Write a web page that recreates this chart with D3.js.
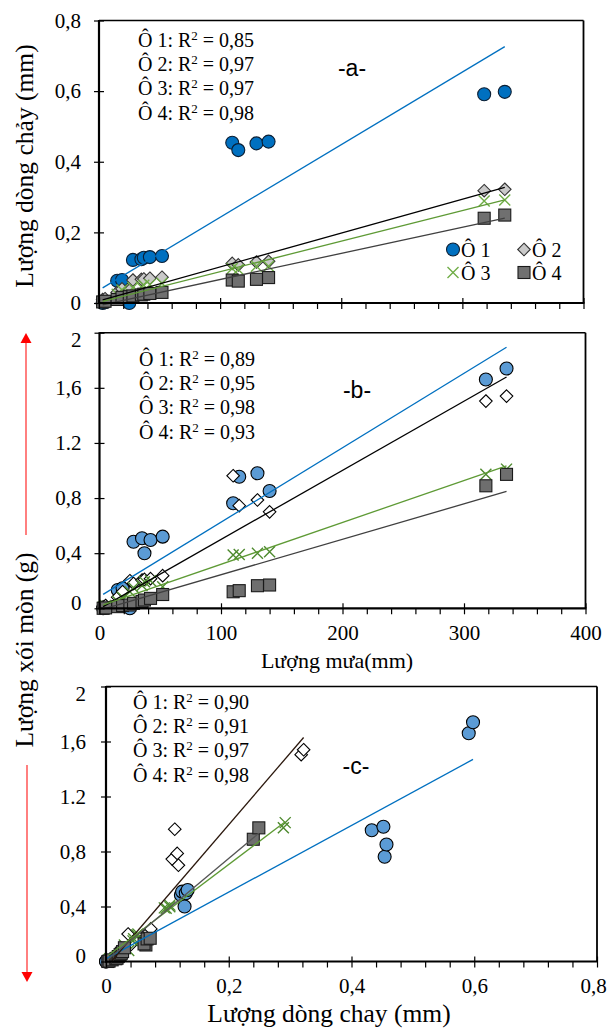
<!DOCTYPE html>
<html>
<head>
<meta charset="utf-8">
<script src="https://cdn.jsdelivr.net/npm/d3@7"></script>
<style>
  body { margin: 0; background: #fff; }
  svg { display: block; }
  text { font-family: "Liberation Serif", "Times New Roman", serif; fill: #000; }
</style>
</head>
<body>
<svg id="chart" width="608" height="1028"></svg>
<script>
// Rainfall of each event (mm)
const rain = [3, 5, 15, 19, 25, 28, 35, 37, 42, 52, 110, 115, 130, 140, 318, 335];
const plotNames = ["Ô 1", "Ô 2", "Ô 3", "Ô 4"];

// Runoff depth (mm) per plot
const runoff1 = [0, 0.002, 0.063, 0.065, 0, 0.122, 0.124, 0.128, 0.13, 0.133, 0.454, 0.433, 0.452, 0.457, 0.591, 0.598];
const runoff2 = [0.01, 0.012, 0.03, 0.04, 0.036, 0.065, 0.067, 0.068, 0.07, 0.073, 0.112, 0.108, 0.116, 0.118, 0.318, 0.322];
const runoff3 = [0.004, 0.006, 0.025, 0.037, 0.03, 0.044, 0.045, 0.05, 0.052, 0.056, 0.098, 0.095, 0.104, 0.104, 0.289, 0.292];
const runoff4 = [0.003, 0.005, 0.01, 0.016, 0.018, 0.02, 0.023, 0.025, 0.027, 0.03, 0.065, 0.062, 0.067, 0.072, 0.24, 0.249];

// Soil loss (g) per plot
const soil1 = [0, 0.004, 0.133, 0.145, 0, 0.483, 0.508, 0.40, 0.496, 0.52, 0.762, 0.955, 0.98, 0.851, 1.66, 1.74];
const soil2 = [0.01, 0.02, 0.08, 0.12, 0.2, 0.18, 0.205, 0.21, 0.215, 0.237, 0.962, 0.745, 0.786, 0.70, 1.504, 1.54];
const soil3 = [0.01, 0.02, 0.05, 0.08, 0.12, 0.15, 0.165, 0.193, 0.2, 0.157, 0.387, 0.39, 0.399, 0.41, 0.972, 1.01];
const soil4 = [0, 0.003, 0.012, 0.02, 0.024, 0.036, 0.05, 0.06, 0.072, 0.1, 0.12, 0.128, 0.164, 0.169, 0.889, 0.972];

// Linear trend coefficients (y = slope * x + intercept) and R² labels
const slopeA = [0.002057, 0.00096, 0.000865, 0.00074];
const interceptA = [0.0368, 0.006, 0.002, -0.0075];
const r2A = ["0,85", "0,97", "0,97", "0,98"];
const slopeB = [0.0054, 0.00502, 0.00304, 0.00257];
const interceptB = [0.085, -0.003, 0.015, -0.013];
const r2B = ["0,89", "0,95", "0,98", "0,93"];
const slopeC = [2.426, 5.2, 3.37, 3.73];
const interceptC = [0.019, -0.045, 0.032, 0.004];
const r2C = ["0,90", "0,91", "0,97", "0,98"];

// Tick values and labels
const rainTicks = [0, 100, 200, 300, 400];
const rainTickLabels = ["0", "100", "200", "300", "400"];
const runoffTicksA = [0, 0.2, 0.4, 0.6, 0.8];
const runoffTickLabelsA = ["0", "0,2", "0,4", "0,6", "0,8"];
const soilTicks = [0, 0.4, 0.8, 1.2, 1.6, 2];
const soilTickLabels = ["0", "0,4", "0,8", "1.2", "1,6", "2"];
const runoffTicksC = [0, 0.2, 0.4, 0.6, 0.8];
const runoffTickLabelsC = ["0", "0,2", "0,4", "0,6", "0,8"];

const runoffs = [runoff1, runoff2, runoff3, runoff4];
const soils = [soil1, soil2, soil3, soil4];

const svg = d3.select("#chart");

// Marker and line styles per panel
const styleA = {
  fills: ["#0070C0", "#C9C9C9", "none", "#707070"],
  strokes: ["#0b1e33", "#333", "#70AD47", "#1a1a1a"],
  lines: ["#0070C0", "#000000", "#5E9A35", "#404040"]
};
const styleBC = {
  fills: ["#5B9BD5", "#ffffff", "none", "#6E6E6E"],
  strokes: ["#000", "#000", "#4E8A2E", "#1a1a1a"],
  lines: ["#0070C0", "#000000", "#5E9A35", "#404040"]
};
const styleC = {
  fills: styleBC.fills,
  strokes: styleBC.strokes,
  lines: ["#0070C0", "#2a170c", "#5E9A35", "#555555"]
};

function marker(g, kind, cx, cy, fill, stroke) {
  if (kind === 0) {
    g.append("circle").attr("cx", cx).attr("cy", cy).attr("r", 6.5)
      .attr("fill", fill).attr("stroke", stroke).attr("stroke-width", 1.1);
  } else if (kind === 1) {
    const s = 6.3;
    g.append("polygon")
      .attr("points", [[cx, cy - s], [cx + s, cy], [cx, cy + s], [cx - s, cy]].map(p => p.join(",")).join(" "))
      .attr("fill", fill).attr("stroke", stroke).attr("stroke-width", 1.1);
  } else if (kind === 2) {
    const s = 5.5;
    g.append("path").attr("d", `M${cx - s},${cy - s}L${cx + s},${cy + s}M${cx - s},${cy + s}L${cx + s},${cy - s}`)
      .attr("stroke", stroke).attr("stroke-width", 1.4).attr("fill", "none");
  } else {
    const s = 6;
    g.append("rect").attr("x", cx - s).attr("y", cy - s).attr("width", 2 * s).attr("height", 2 * s)
      .attr("fill", fill).attr("stroke", stroke).attr("stroke-width", 1.1);
  }
}

function drawPanel(opt) {
  const { x, y } = opt;
  const g = svg.append("g");
  const [x0, x1] = x.range();
  const [y0, y1] = y.range();

  // scatter points, plot by plot
  for (let k = 0; k < 4; k++) {
    const xs = opt.xData[k], ys = opt.yData[k];
    const sg = g.append("g");
    xs.forEach((xv, i) => marker(sg, k, x(xv), y(ys[i]), opt.style.fills[k], opt.style.strokes[k]));
  }
  // trend lines over the points
  for (let k = 0; k < 4; k++) {
    const xs = opt.xData[k];
    const lo = d3.min(xs), hi = d3.max(xs);
    const f = v => opt.slope[k] * v + opt.intercept[k];
    g.append("line")
      .attr("x1", x(lo)).attr("y1", y(f(lo)))
      .attr("x2", x(hi)).attr("y2", y(f(hi)))
      .attr("stroke", opt.style.lines[k]).attr("stroke-width", 1.3);
  }

  // frame
  g.append("line").attr("x1", x0).attr("x2", x1).attr("y1", y1).attr("y2", y1).attr("stroke", "#000").attr("stroke-width", 1.4);
  g.append("line").attr("x1", x1).attr("x2", x1).attr("y1", y1).attr("y2", y0).attr("stroke", "#000").attr("stroke-width", 1.8);

  // y axis: labelled ticks on the left plus short crossing ticks
  const yAxis = g.append("g").attr("transform", `translate(${x0},0)`)
    .call(d3.axisLeft(y).tickValues(opt.yTicks).tickSize(5).tickPadding(opt.yPad)
      .tickFormat((d, i) => opt.yLabels[i]));
  yAxis.select(".domain").remove();
  yAxis.selectAll("text").style("font-family", "Liberation Serif").style("font-size", "21px").attr("fill", "#000")
    .attr("dy", (d, i) => {
      let off = 0.32 * 21;
      if (opt.endNudge && i === 0) off -= 6;
      if (opt.endNudge && i === opt.yTicks.length - 1) off += 7;
      return off;
    });
  yAxis.selectAll("line").attr("stroke", "#000").attr("stroke-width", 1.2);
  const yCross = g.append("g").attr("transform", `translate(${x0},0)`)
    .call(d3.axisRight(y).tickValues(opt.yTicks).tickSize(5).tickFormat(""));
  yCross.select(".domain").remove();
  yCross.selectAll("line").attr("stroke", "#000").attr("stroke-width", 1.2);

  // x axis: minor ticks below, major ticks crossing, optional labels
  const xMinor = g.append("g").attr("transform", `translate(0,${y0})`)
    .call(d3.axisBottom(x).tickValues(opt.xMinor).tickSize(6).tickFormat(""));
  xMinor.select(".domain").remove();
  xMinor.selectAll("line").attr("stroke", "#000").attr("stroke-width", 1.2);
  const xAxis = g.append("g").attr("transform", `translate(0,${y0})`)
    .call(d3.axisBottom(x).tickValues(opt.xTicks).tickSize(6).tickPadding(11)
      .tickFormat((d, i) => opt.xLabels ? opt.xLabels[i] : ""));
  xAxis.select(".domain").remove();
  xAxis.selectAll("line").attr("stroke", "#000").attr("stroke-width", 1.2);
  xAxis.selectAll("text").style("font-family", "Liberation Serif").style("font-size", "21px").attr("fill", "#000");
  // keep the last label inside the page edge
  if (opt.lastLabelShift) {
    xAxis.selectAll("text").filter((d, i) => i === opt.xTicks.length - 1).attr("x", -opt.lastLabelShift);
  }
  const xCross = g.append("g").attr("transform", `translate(0,${y0})`)
    .call(d3.axisTop(x).tickValues(opt.xTicks).tickSize(5).tickFormat(""));
  xCross.select(".domain").remove();
  xCross.selectAll("line").attr("stroke", "#000").attr("stroke-width", 1.2);

  // main axis lines
  g.append("line").attr("x1", x0).attr("x2", x0).attr("y1", y1 - 0.5).attr("y2", y0 + 1).attr("stroke", "#000").attr("stroke-width", 2.2);
  g.append("line").attr("x1", x0 - 1).attr("x2", x1 + 1).attr("y1", y0).attr("y2", y0).attr("stroke", "#000").attr("stroke-width", 2.2);

  // R² annotations
  opt.r2.forEach((r, i) => {
    const t = g.append("text").attr("x", opt.r2x).attr("y", opt.r2y + i * 24.2).style("font-size", "20px");
    t.append("tspan").text(`${plotNames[i]}: R`);
    t.append("tspan").text("2").style("font-size", "13px").attr("dy", -7);
    t.append("tspan").text(` = ${r}`).attr("dy", 7);
  });

  // panel tag
  g.append("text").attr("x", opt.tag[1]).attr("y", opt.tag[2]).attr("text-anchor", "middle")
    .style("font-family", "Liberation Sans, Arial, sans-serif").style("font-size", "23px").text(opt.tag[0]);
  return g;
}

const rainMinor = d3.range(0, 401, 20).filter(v => v % 100 !== 0);
const runoffMinor = d3.range(0, 0.81, 0.04).filter((v, i) => i % 5 !== 0);

// -a- runoff versus rainfall
const xA = d3.scaleLinear().domain([0, 400]).range([99, 583.5]);
const yA = d3.scaleLinear().domain([0, 0.8]).range([303, 20.5]);
const gA = drawPanel({
  x: xA, y: yA, xData: [rain, rain, rain, rain], yData: runoffs,
  slope: slopeA, intercept: interceptA, style: styleA,
  yTicks: runoffTicksA, yLabels: runoffTickLabelsA, yPad: 13,
  xTicks: rainTicks, xLabels: null, xMinor: rainMinor,
  r2: r2A, r2x: 138, r2y: 47, tag: ["-a-", 352, 76]
});

// legend for panel a
const legendCols = [453, 524];
const legendRows = [249.5, 272.5];
plotNames.forEach((name, k) => {
  const cx = legendCols[k % 2], cy = legendRows[Math.floor(k / 2)];
  marker(gA, k, cx, cy, styleA.fills[k], styleA.strokes[k]);
  gA.append("text").attr("x", cx + 8).attr("y", cy + 7).style("font-size", "20px").text(name);
});

// -b- soil loss versus rainfall
const xB = d3.scaleLinear().domain([0, 400]).range([99.5, 585.5]);
const yB = d3.scaleLinear().domain([0, 2]).range([608.3, 332.7]);
drawPanel({
  x: xB, y: yB, xData: [rain, rain, rain, rain], yData: soils,
  slope: slopeB, intercept: interceptB, style: styleBC,
  yTicks: soilTicks, yLabels: soilTickLabels, yPad: 13, endNudge: true,
  xTicks: rainTicks, xLabels: rainTickLabels, xMinor: rainMinor,
  r2: r2B, r2x: 139, r2y: 366, tag: ["-b-", 357, 398]
});
svg.append("text").attr("x", 337).attr("y", 668).attr("text-anchor", "middle")
  .style("font-size", "22px").text("Lượng mưa(mm)");

// -c- soil loss versus runoff
const xC = d3.scaleLinear().domain([0, 0.8]).range([106, 597]);
const yC = d3.scaleLinear().domain([0, 2]).range([961.5, 686.5]);
drawPanel({
  x: xC, y: yC, xData: runoffs, yData: soils,
  slope: slopeC, intercept: interceptC, style: styleC,
  yTicks: soilTicks, yLabels: soilTickLabels, yPad: 15, endNudge: true,
  xTicks: runoffTicksC, xLabels: runoffTickLabelsC, xMinor: runoffMinor, lastLabelShift: 4,
  r2: r2C, r2x: 133, r2y: 709, tag: ["-c-", 356, 774]
});
svg.append("text").attr("x", 329).attr("y", 1022).attr("text-anchor", "middle")
  .style("font-size", "25.5px").text("Lượng dòng chay (mm)");

// vertical axis titles
svg.append("text").attr("transform", "translate(33,166) rotate(-90)").attr("text-anchor", "middle")
  .style("font-size", "25.5px").text("Lượng dòng chảy (mm)");
svg.append("text").attr("transform", "translate(33,650) rotate(-90)").attr("text-anchor", "middle")
  .style("font-size", "25.5px").text("Lượng xói mòn (g)");

// red arrows around the shared soil-loss title
const arrows = svg.append("g");
arrows.append("line").attr("x1", 26).attr("x2", 26).attr("y1", 535).attr("y2", 341).attr("stroke", "#ff2a2a").attr("stroke-width", 1.2);
arrows.append("path").attr("d", "M26,333L31.5,343L20.5,343Z").attr("fill", "#ff0000");
arrows.append("line").attr("x1", 27).attr("x2", 27).attr("y1", 765).attr("y2", 973).attr("stroke", "#ff2a2a").attr("stroke-width", 1.2);
arrows.append("path").attr("d", "M27,982L32.5,972L21.5,972Z").attr("fill", "#ff0000");
</script>
</body>
</html>
